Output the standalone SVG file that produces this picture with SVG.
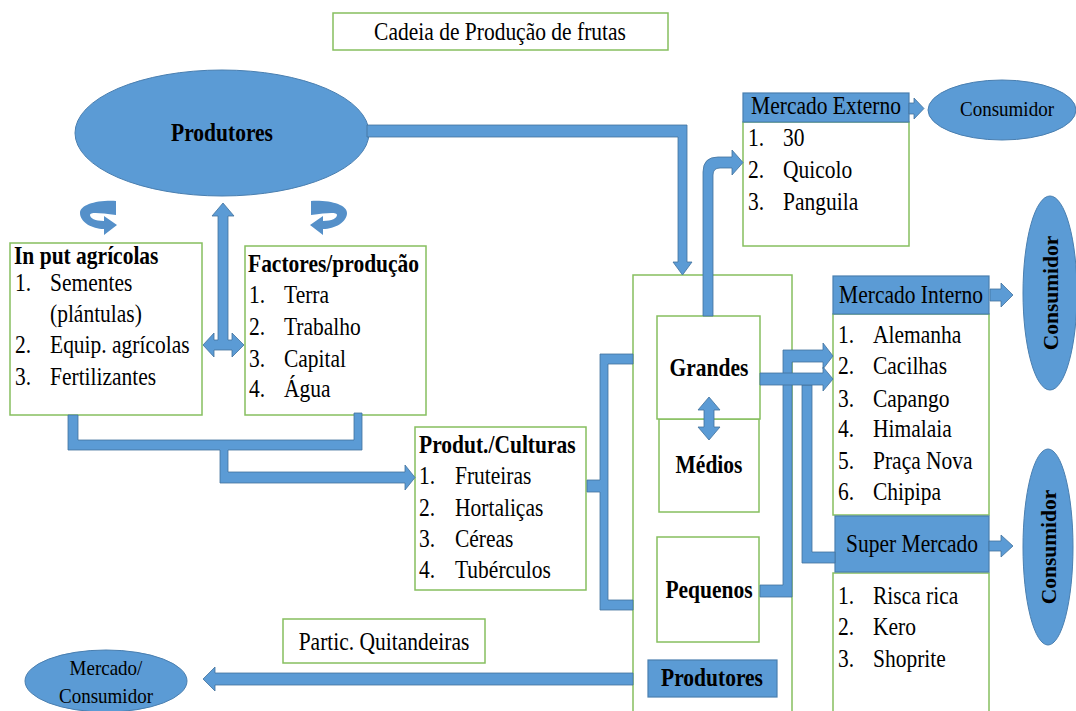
<svg xmlns="http://www.w3.org/2000/svg" width="1076" height="711" viewBox="0 0 1076 711">
<style>
.bx{fill:#fff;stroke:#86bf5f;stroke-width:1.5}
.hd{fill:#5b9bd5;stroke:#4a7fb0;stroke-width:1.2}
.el{fill:#5b9bd5;stroke:#4a7fb0;stroke-width:1}
.cn{fill:#5b9bd5;stroke:#41719c;stroke-width:0.8}
.cr{fill:#5590c9;stroke:none}
.t{font-family:'Liberation Serif','DejaVu Serif',serif;font-size:21.5px;fill:#000}
.b{font-weight:bold}
.c{text-anchor:middle}
.sm{font-size:19px}
</style>
<rect width="1076" height="711" fill="#fff"/>

<g id="title">
<rect class="bx" x="333" y="13" width="335" height="37"/>
<text class="t c" transform="translate(500,40) scale(1,1.15)">Cadeia de Produção de frutas</text>
</g>

<g id="produtores-ellipse">
<ellipse class="el" cx="222" cy="133" rx="147" ry="63"/>
<text class="t b c" transform="translate(222,141) scale(1,1.15)">Produtores</text>
</g>

<g id="input-agricolas">
<rect class="bx" x="10" y="243" width="192" height="172"/>
<text class="t b" transform="translate(14,264) scale(1,1.15)">In put agrícolas</text>
<text class="t" transform="translate(15,291) scale(1,1.15)">1.</text>
<text class="t" transform="translate(50,291) scale(1,1.15)">Sementes</text>
<text class="t" transform="translate(50,322) scale(1,1.15)">(plántulas)</text>
<text class="t" transform="translate(15,353) scale(1,1.15)">2.</text>
<text class="t" transform="translate(50,353) scale(1,1.15)">Equip. agrícolas</text>
<text class="t" transform="translate(15,385) scale(1,1.15)">3.</text>
<text class="t" transform="translate(50,385) scale(1,1.15)">Fertilizantes</text>
</g>

<g id="factores-producao">
<rect class="bx" x="245" y="246" width="181" height="169"/>
<text class="t b" transform="translate(248,272) scale(1,1.15)">Factores/produção</text>
<text class="t" transform="translate(249,303) scale(1,1.15)">1.</text>
<text class="t" transform="translate(284,303) scale(1,1.15)">Terra</text>
<text class="t" transform="translate(249,335) scale(1,1.15)">2.</text>
<text class="t" transform="translate(284,335) scale(1,1.15)">Trabalho</text>
<text class="t" transform="translate(249,367) scale(1,1.15)">3.</text>
<text class="t" transform="translate(284,367) scale(1,1.15)">Capital</text>
<text class="t" transform="translate(249,397) scale(1,1.15)">4.</text>
<text class="t" transform="translate(284,397) scale(1,1.15)">Água</text>
</g>

<g id="produt-culturas">
<rect class="bx" x="415" y="427" width="171" height="163"/>
<text class="t b" transform="translate(419,453) scale(1,1.15)">Produt./Culturas</text>
<text class="t" transform="translate(419,484) scale(1,1.15)">1.</text>
<text class="t" transform="translate(455,484) scale(1,1.15)">Fruteiras</text>
<text class="t" transform="translate(419,516) scale(1,1.15)">2.</text>
<text class="t" transform="translate(455,516) scale(1,1.15)">Hortaliças</text>
<text class="t" transform="translate(419,547) scale(1,1.15)">3.</text>
<text class="t" transform="translate(455,547) scale(1,1.15)">Céreas</text>
<text class="t" transform="translate(419,578) scale(1,1.15)">4.</text>
<text class="t" transform="translate(455,578) scale(1,1.15)">Tubérculos</text>
</g>

<g id="produtores-container">
<rect class="bx" x="633" y="275" width="159" height="450"/>
</g>

<g id="medios">
<rect class="bx" x="659" y="419" width="100" height="93"/>
<text class="t b c" transform="translate(709,473) scale(1,1.15)">Médios</text>
</g>

<g id="grandes">
<rect class="bx" x="657" y="316" width="103" height="103"/>
<text class="t b c" transform="translate(709,376) scale(1,1.15)">Grandes</text>
</g>

<g id="pequenos">
<rect class="bx" x="657" y="537" width="102" height="105"/>
<text class="t b c" transform="translate(709,598) scale(1,1.15)">Pequenos</text>
</g>

<g id="produtores-label">
<rect class="hd" x="648" y="660" width="129" height="37"/>
<text class="t b c" transform="translate(712,686) scale(1,1.15)">Produtores</text>
</g>

<g id="mercado-externo">
<rect class="bx" x="743" y="122" width="166" height="124"/>
<rect class="hd" x="743" y="93" width="166" height="29"/>
<text class="t c" transform="translate(826,114) scale(1,1.15)">Mercado Externo</text>
<text class="t" transform="translate(748,146) scale(1,1.15)">1.</text>
<text class="t" transform="translate(783,146) scale(1,1.15)">30</text>
<text class="t" transform="translate(748,178) scale(1,1.15)">2.</text>
<text class="t" transform="translate(783,178) scale(1,1.15)">Quicolo</text>
<text class="t" transform="translate(748,210) scale(1,1.15)">3.</text>
<text class="t" transform="translate(783,210) scale(1,1.15)">Panguila</text>
</g>

<g id="consumidor-externo">
<ellipse class="el" cx="1002" cy="110" rx="74" ry="30"/>
<text class="t sm c" transform="translate(1007,116) scale(1,1.15)">Consumidor</text>
</g>

<g id="mercado-interno">
<rect class="bx" x="833" y="314" width="156" height="201"/>
<rect class="hd" x="833" y="276" width="156" height="38"/>
<text class="t c" transform="translate(911,303) scale(1,1.15)">Mercado Interno</text>
<text class="t" transform="translate(838,343) scale(1,1.15)">1.</text>
<text class="t" transform="translate(873,343) scale(1,1.15)">Alemanha</text>
<text class="t" transform="translate(838,374) scale(1,1.15)">2.</text>
<text class="t" transform="translate(873,374) scale(1,1.15)">Cacilhas</text>
<text class="t" transform="translate(838,407) scale(1,1.15)">3.</text>
<text class="t" transform="translate(873,407) scale(1,1.15)">Capango</text>
<text class="t" transform="translate(838,437) scale(1,1.15)">4.</text>
<text class="t" transform="translate(873,437) scale(1,1.15)">Himalaia</text>
<text class="t" transform="translate(838,469) scale(1,1.15)">5.</text>
<text class="t" transform="translate(873,469) scale(1,1.15)">Praça Nova</text>
<text class="t" transform="translate(838,500) scale(1,1.15)">6.</text>
<text class="t" transform="translate(873,500) scale(1,1.15)">Chipipa</text>
</g>

<g id="super-mercado">
<rect class="bx" x="833" y="573" width="156" height="150"/>
<rect class="hd" x="835" y="516" width="154" height="56"/>
<text class="t c" transform="translate(912,552) scale(1,1.15)">Super Mercado</text>
<text class="t" transform="translate(838,604) scale(1,1.15)">1.</text>
<text class="t" transform="translate(873,604) scale(1,1.15)">Risca rica</text>
<text class="t" transform="translate(838,635) scale(1,1.15)">2.</text>
<text class="t" transform="translate(873,635) scale(1,1.15)">Kero</text>
<text class="t" transform="translate(838,667) scale(1,1.15)">3.</text>
<text class="t" transform="translate(873,667) scale(1,1.15)">Shoprite</text>
</g>

<g id="consumidor-interno">
<ellipse class="el" cx="1050" cy="293" rx="27" ry="97"/>
<text class="t b c" transform="translate(1050,293) rotate(-90)" y="7.5">Consumidor</text>
</g>

<g id="consumidor-super">
<ellipse class="el" cx="1048" cy="547" rx="25" ry="98"/>
<text class="t b c" transform="translate(1048,547) rotate(-90)" y="7.5">Consumidor</text>
</g>

<g id="partic-quitandeiras">
<rect class="bx" x="283" y="619" width="202" height="44"/>
<text class="t c" transform="translate(384,650) scale(1,1.15)">Partic. Quitandeiras</text>
</g>

<g id="mercado-consumidor">
<ellipse class="el" cx="106" cy="681" rx="81" ry="31"/>
<text class="t sm c" transform="translate(106,675) scale(1,1.15)">Mercado/</text>
<text class="t sm c" transform="translate(106,703) scale(1,1.15)">Consumidor</text>
</g>

<g id="connectors">
<path class="cn" d="M367,125 H687 V262 H692 L682.5,275 L673,262 H678 V137 H367 Z"/>
<path class="cn" d="M223,203 L234,216 H228 V340 H232 V333 L244,345 L232,357 V350 H214 V357 L203,345 L214,333 V340 H218 V216 H212 Z"/>
<path class="cr" d="M116,201 C96,200 80,205 80,213 C80,222 92,229 104,229 V235 L117,225 L104,216 V221 C95,221 90,218 90,215 C90,212 100,213 116,215 Z"/>
<path class="cr" d="M311,201 C331,200 347,205 347,213 C347,222 335,229 323,229 V235 L310,225 L323,216 V221 C332,221 337,218 337,215 C337,212 327,213 311,215 Z"/>
<path class="cn" d="M68,415 H78 V440 H354 V413 H362 V450 H228 V472 H405 V465 L415,477.5 L405,490 V483 H220 V450 H68 Z"/>
<path class="cn" d="M633,354 V364 H608 V600 H633 V610 H600 V492 H587 V480 H600 V354 Z"/>
<path class="cn" d="M703,316 V172 Q703,157 718,157 H732 V150 L743,162.5 L732,175 V168 H720 Q713,168 713,175 V316 Z"/>
<path class="cn" d="M709,397 L720,410 H714 V427 H720 L709,440 L698,427 H704 V410 H698 Z"/>
<path class="cn" d="M760,585 H783 V350 H823 V343 L833,356 L823,369 V362 H792 V597 H760 Z"/>
<path class="cn" d="M802,385 H812 V552 H835 V563 H802 Z"/>
<path class="cn" d="M760,373 H823 V367 L833,379 L823,391 V385 H760 Z"/>
<path class="cn" d="M909,103 H914 V98 L924,108.5 L914,119 V114 H909 Z"/>
<path class="cn" d="M990,289 H1001 V283 L1013,295 L1001,307 V301 H990 Z"/>
<path class="cn" d="M989,541 H1001 V535 L1013,546 L1001,557 V551 H989 Z"/>
<path class="cn" d="M633,673 H215 V667 L203,679 L215,691 V685 H633 Z"/>
</g>
</svg>
